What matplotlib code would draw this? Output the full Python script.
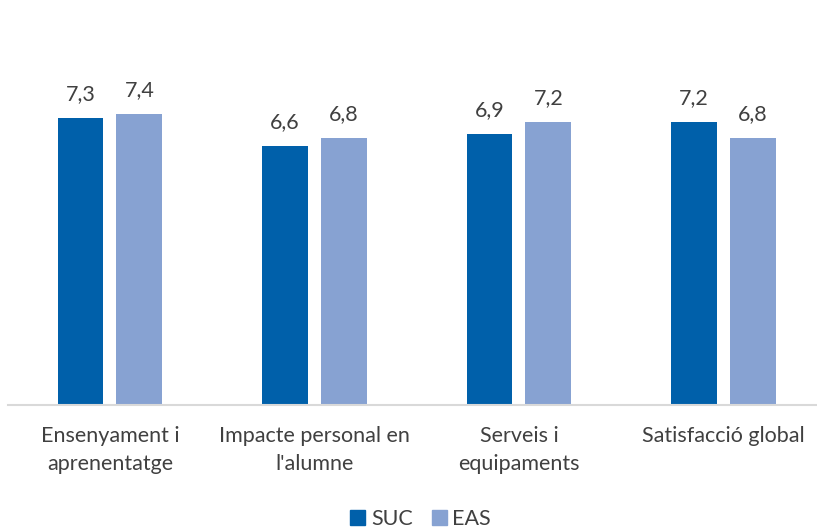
import numpy as np
import matplotlib
matplotlib.use("Agg")
from matplotlib import pyplot as plt
from matplotlib.patches import Patch

plt.rcParams['font.family'] = ['Lato', 'DejaVu Sans']

categories = ["Ensenyament i\naprenentatge", "Impacte personal en\nl'alumne",
              "Serveis i\nequipaments", "Satisfacció global"]
suc = [7.3, 6.6, 6.9, 7.2]
eas = [7.4, 6.8, 7.2, 6.8]
series = ["SUC", "EAS"]

c_suc = "#0060AA"
c_eas = "#87A2D2"
c_text = "#404040"

fig = plt.figure(figsize=(8.17, 5.29), dpi=100)
ax = fig.add_axes([7.7 / 817, (529 - 405) / 529, 818 / 817, 393 / 529])

x = np.arange(len(categories))
w = 0.224
off = 0.144
b1 = ax.bar(x - off, suc, w, color=c_suc)
b2 = ax.bar(x + off, eas, w, color=c_eas)

# etiquetes de valor amb coma decimal
for bars, vals in ((b1, suc), (b2, eas)):
    for b, v in zip(bars, vals):
        ax.annotate(f"{v:.1f}".replace(".", ","),
                    (b.get_x() + b.get_width() / 2, v),
                    xytext=(0, 10), textcoords="offset points",
                    ha="center", va="bottom", fontsize=15.5, color=c_text)

ax.set_xlim(-0.5, 3.5)
ax.set_ylim(0, 10)
ax.set_yticks([])
ax.set_xticks(x)
ax.set_xticklabels(categories, fontsize=15.5, color=c_text, linespacing=1.5)
ax.tick_params(axis="x", length=0, pad=15)
for s in ["top", "right", "left"]:
    ax.spines[s].set_visible(False)
ax.spines["bottom"].set_color("#D9D9D9")
ax.spines["bottom"].set_linewidth(1.5)

handles = [Patch(color=c_suc), Patch(color=c_eas)]
fig.legend(handles, series, loc="center", bbox_to_anchor=(0.515, 1 - 519 / 529),
           ncol=2, frameon=False, fontsize=15.5, labelcolor=c_text,
           handlelength=0.7, handleheight=0.7, handletextpad=0.25, columnspacing=0.9)

fig.savefig("out.png", dpi=100)
